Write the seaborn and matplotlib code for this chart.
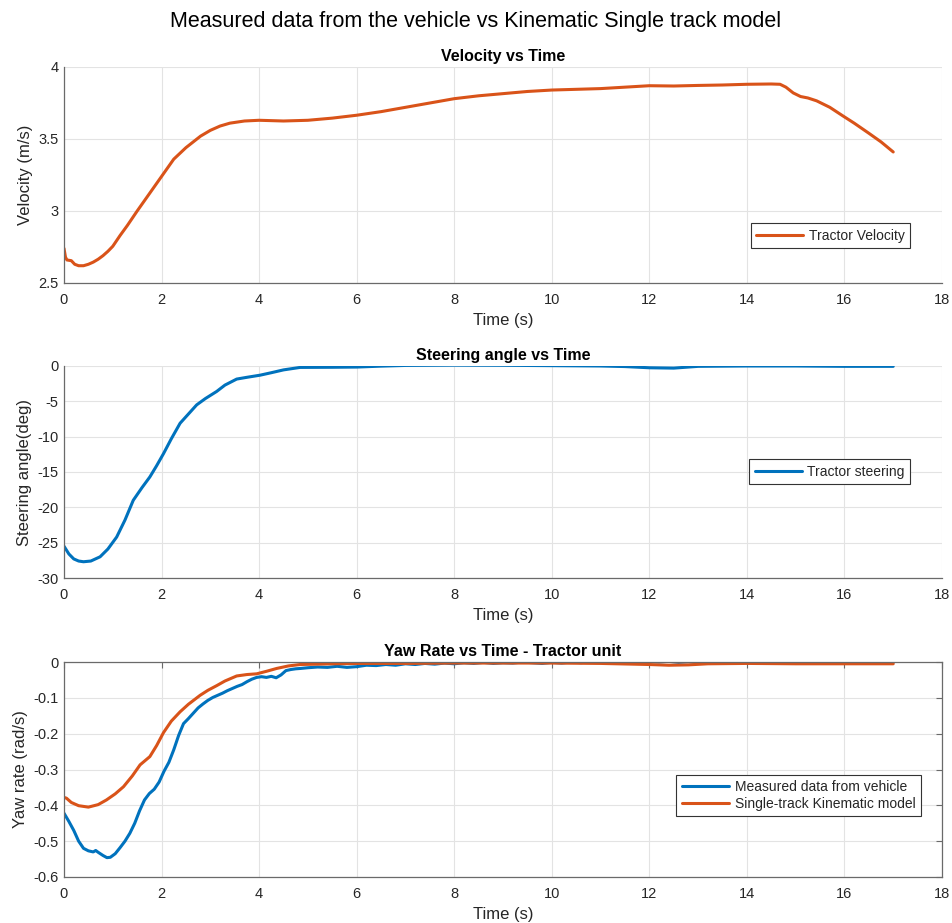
import matplotlib
matplotlib.use("Agg")
import matplotlib.pyplot as plt
import seaborn as sns
import numpy as np
import pandas as pd

# ---------------- data ----------------
vel_t = [0.0, 0.03, 0.06, 0.15, 0.22, 0.3, 0.4, 0.5, 0.6, 0.7, 0.8, 0.9, 1.0, 1.15, 1.3, 1.5,
         1.75, 2.0, 2.25, 2.5, 2.8, 3.0, 3.2, 3.4, 3.7, 4.0, 4.5, 5.0, 5.5, 6.0, 6.5, 7.0,
         7.5, 8.0, 8.5, 9.0, 9.5, 10.0, 10.5, 11.0, 11.5, 12.0, 12.5, 13.0, 13.5, 14.0,
         14.5, 14.68, 14.8, 14.95, 15.1, 15.25, 15.43, 15.7, 15.97, 16.2, 16.5, 16.75, 17.0]
vel_v = [2.74, 2.68, 2.66, 2.655, 2.63, 2.62, 2.62, 2.63, 2.645, 2.665, 2.69, 2.72, 2.755, 2.83, 2.9, 3.0,
         3.12, 3.24, 3.36, 3.44, 3.52, 3.56, 3.59, 3.61, 3.625, 3.63, 3.625, 3.63, 3.645, 3.665, 3.69, 3.72,
         3.75, 3.78, 3.80, 3.815, 3.83, 3.84, 3.845, 3.85, 3.86, 3.87, 3.868, 3.872, 3.875, 3.88,
         3.882, 3.88, 3.86, 3.82, 3.795, 3.785, 3.765, 3.72, 3.66, 3.61, 3.54, 3.48, 3.41]

steer_t = [0.0, 0.1, 0.2, 0.3, 0.4, 0.55, 0.74, 0.9, 1.08, 1.25, 1.42, 1.6, 1.76, 1.9, 2.04, 2.2,
           2.38, 2.55, 2.72, 2.9, 3.13, 3.3, 3.54, 3.75, 4.02, 4.25, 4.5, 4.84, 5.5, 6.0, 6.5,
           7.0, 8.0, 9.0, 10.0, 11.0, 11.5, 12.0, 12.5, 13.0, 14.0, 15.0, 16.0, 17.0]
steer_v = [-25.5, -26.6, -27.3, -27.6, -27.7, -27.6, -27.0, -25.9, -24.2, -21.8, -19.0, -17.2, -15.7, -14.1, -12.4, -10.3,
           -8.1, -6.8, -5.5, -4.6, -3.6, -2.7, -1.85, -1.6, -1.3, -0.95, -0.55, -0.2, -0.18, -0.15, -0.02,
           0.08, 0.12, 0.1, 0.05, 0.0, -0.08, -0.25, -0.3, -0.05, 0.0, 0.0, -0.05, -0.05]

yaw_t = [0.0, 0.1, 0.2, 0.3, 0.4, 0.5, 0.6, 0.65, 0.7, 0.8, 0.88, 0.95, 1.05, 1.15, 1.25, 1.35,
         1.45, 1.55, 1.65, 1.75, 1.85, 1.95, 2.05, 2.15, 2.25, 2.35, 2.45, 2.55, 2.65, 2.75,
         2.85, 2.95, 3.05, 3.15, 3.25, 3.35, 3.45, 3.55, 3.65, 3.75, 3.85, 3.95, 4.05, 4.15,
         4.25, 4.35, 4.45, 4.55, 4.65, 4.75, 4.85, 5.0, 5.2, 5.4, 5.6, 5.8, 6.0, 6.2, 6.4,
         6.6, 6.8, 7.0, 7.2, 7.4, 7.6, 7.8, 8.0, 8.2, 8.4, 8.6, 8.8, 9.0, 9.2, 9.4, 9.6, 9.8,
         10.0, 10.2, 10.4, 10.6, 10.8, 11.0, 11.2, 11.4, 11.6, 11.8, 12.0, 12.2, 12.4, 12.6,
         12.8, 13.0, 13.2, 13.4, 13.6, 13.8, 14.0, 14.2, 14.4, 14.6, 14.8, 15.0, 15.2, 15.4,
         15.6, 15.8, 16.0, 16.2, 16.4, 16.6, 16.8, 17.0]
yaw_meas = [-0.422, -0.445, -0.47, -0.50, -0.520, -0.527, -0.530, -0.526, -0.531, -0.540, -0.546, -0.545, -0.535, -0.518, -0.500, -0.478,
            -0.450, -0.415, -0.385, -0.367, -0.355, -0.335, -0.305, -0.280, -0.245, -0.205, -0.172, -0.158, -0.143, -0.128,
            -0.117, -0.107, -0.099, -0.093, -0.087, -0.080, -0.074, -0.068, -0.063, -0.055, -0.048, -0.043, -0.041, -0.043,
            -0.040, -0.044, -0.036, -0.024, -0.021, -0.019, -0.018, -0.016, -0.014, -0.015, -0.012, -0.015, -0.013, -0.009, -0.010,
            -0.007, -0.009, -0.005, -0.007, -0.004, -0.006, -0.003, -0.005, -0.002, -0.004, -0.001, -0.004, -0.002, -0.003, 0.000, -0.002, -0.004,
            -0.001, -0.003, 0.000, -0.002, 0.001, -0.001, 0.002, 0.001, 0.003, 0.001, 0.002, 0.000, 0.002, -0.001,
            0.001, -0.001, 0.001, 0.000, 0.002, -0.001, 0.001, 0.000, -0.001, 0.001, -0.002, 0.000, -0.001, 0.001,
            -0.002, 0.000, -0.001, 0.001, -0.002, 0.000, -0.001, -0.001]

model_t = [0.0, 0.05, 0.15, 0.3, 0.5, 0.7, 0.87, 1.05, 1.22, 1.4, 1.56, 1.76, 1.9, 2.04, 2.2, 2.38,
           2.55, 2.79, 2.95, 3.13, 3.3, 3.54, 3.75, 3.95, 4.15, 4.36, 4.6, 4.84, 5.5, 6.0, 7.0, 8.0,
           9.0, 10.0, 11.0, 12.0, 12.4, 12.8, 13.2, 14.0, 15.0, 16.0, 17.0]
model_v = [-0.378, -0.380, -0.392, -0.401, -0.405, -0.398, -0.385, -0.368, -0.348, -0.318, -0.287, -0.264, -0.233, -0.197, -0.165, -0.139,
           -0.118, -0.093, -0.079, -0.066, -0.053, -0.039, -0.035, -0.033, -0.026, -0.018, -0.011, -0.007, -0.005, -0.004, -0.004, -0.003,
           -0.003, -0.003, -0.004, -0.007, -0.009, -0.008, -0.005, -0.004, -0.005, -0.005, -0.005]

x_ticks = [0, 2, 4, 6, 8, 10, 12, 14, 16, 18]
x_ticklabels = ["0", "2", "4", "6", "8", "10", "12", "14", "16", "18"]
vel_ticks = [2.5, 3.0, 3.5, 4.0]
vel_ticklabels = ["2.5", "3", "3.5", "4"]
steer_ticks = [-30, -25, -20, -15, -10, -5, 0]
steer_ticklabels = ["-30", "-25", "-20", "-15", "-10", "-5", "0"]
yaw_ticks = [-0.6, -0.5, -0.4, -0.3, -0.2, -0.1, 0.0]
yaw_ticklabels = ["-0.6", "-0.5", "-0.4", "-0.3", "-0.2", "-0.1", "0"]

# ---------------- style ----------------
sns.set_style("white")
plt.rcParams['font.family'] = ['Liberation Sans', 'DejaVu Sans']
plt.rcParams['axes.unicode_minus'] = False

BLUE = "#0072BD"
ORANGE = "#D95319"
AXC = "#6a6a6a"
TXT = "#262626"

fig = plt.figure(figsize=(9.52, 9.23), dpi=100)
W, H = 952, 923
def add_ax(top_px, bot_px):
    return fig.add_axes([64 / W, 1 - bot_px / H, 878 / W, (bot_px - top_px) / H])

ax1 = add_ax(67, 283)
ax2 = add_ax(366, 578)
ax3 = add_ax(662, 877)

df_vel = pd.DataFrame({"t": vel_t, "v": vel_v})
df_st = pd.DataFrame({"t": steer_t, "v": steer_v})
df_ym = pd.DataFrame({"t": yaw_t, "v": yaw_meas})
df_mo = pd.DataFrame({"t": model_t, "v": model_v})

sns.lineplot(data=df_vel, x="t", y="v", ax=ax1, color=ORANGE, linewidth=2.2, label="Tractor Velocity")
sns.lineplot(data=df_st, x="t", y="v", ax=ax2, color=BLUE, linewidth=2.2, label="Tractor steering")
sns.lineplot(data=df_ym, x="t", y="v", ax=ax3, color=BLUE, linewidth=2.2, label="Measured data from vehicle")
sns.lineplot(data=df_mo, x="t", y="v", ax=ax3, color=ORANGE, linewidth=2.2, label="Single-track Kinematic model")

def style(ax, yticks, ylabels, ylim, ylabel, title, box):
    ax.set_xlim(0, 18)
    ax.set_ylim(*ylim)
    ax.set_xticks(x_ticks)
    ax.set_xticklabels(x_ticklabels)
    ax.set_yticks(yticks)
    ax.set_yticklabels(ylabels)
    ax.grid(True, color="#e3e3e3", linewidth=0.8)
    ax.set_axisbelow(True)
    ax.tick_params(direction="in", length=4, width=0.8, colors=AXC, labelcolor=TXT, labelsize=10.5,
                   top=box, right=box)
    ax.tick_params(axis="x", pad=7.5)
    ax.tick_params(axis="y", pad=4)
    for s in ["left", "bottom"]:
        ax.spines[s].set_color(AXC)
        ax.spines[s].set_linewidth(0.9)
    for s in ["top", "right"]:
        ax.spines[s].set_visible(box)
        ax.spines[s].set_color(AXC)
        ax.spines[s].set_linewidth(0.9)
    ax.set_xlabel("Time (s)", fontsize=12, color=TXT, labelpad=4)
    ax.set_ylabel(ylabel, fontsize=12, color=TXT, labelpad=4)
    ax.set_title(title, fontsize=11.5, fontweight="bold", color="black", pad=4)

style(ax1, vel_ticks, vel_ticklabels, (2.5, 4.0), "Velocity (m/s)", "Velocity vs Time", False)
style(ax2, steer_ticks, steer_ticklabels, (-30, 0), "Steering angle(deg)", "Steering angle vs Time", False)
style(ax3, yaw_ticks, yaw_ticklabels, (-0.6, 0.0), "Yaw rate (rad/s)", "Yaw Rate vs Time - Tractor unit", True)

def leg(ax, anchor):
    lg = ax.legend(loc="center right", bbox_to_anchor=anchor, borderaxespad=0, fontsize=10,
                   frameon=True, fancybox=False, framealpha=1, edgecolor="#333333",
                   handlelength=3.4, handletextpad=0.4, borderpad=0.4, labelspacing=0.2)
    lg.get_frame().set_linewidth(0.8)
    for t in lg.get_texts():
        t.set_color(TXT)

leg(ax1, (0.964, 0.218))
leg(ax2, (0.964, 0.502))
leg(ax3, (0.976, 0.379))

fig.suptitle("Measured data from the vehicle vs Kinematic Single track model", fontsize=15.5, y=0.988, color="black")

fig.savefig("out.png", dpi=100)
